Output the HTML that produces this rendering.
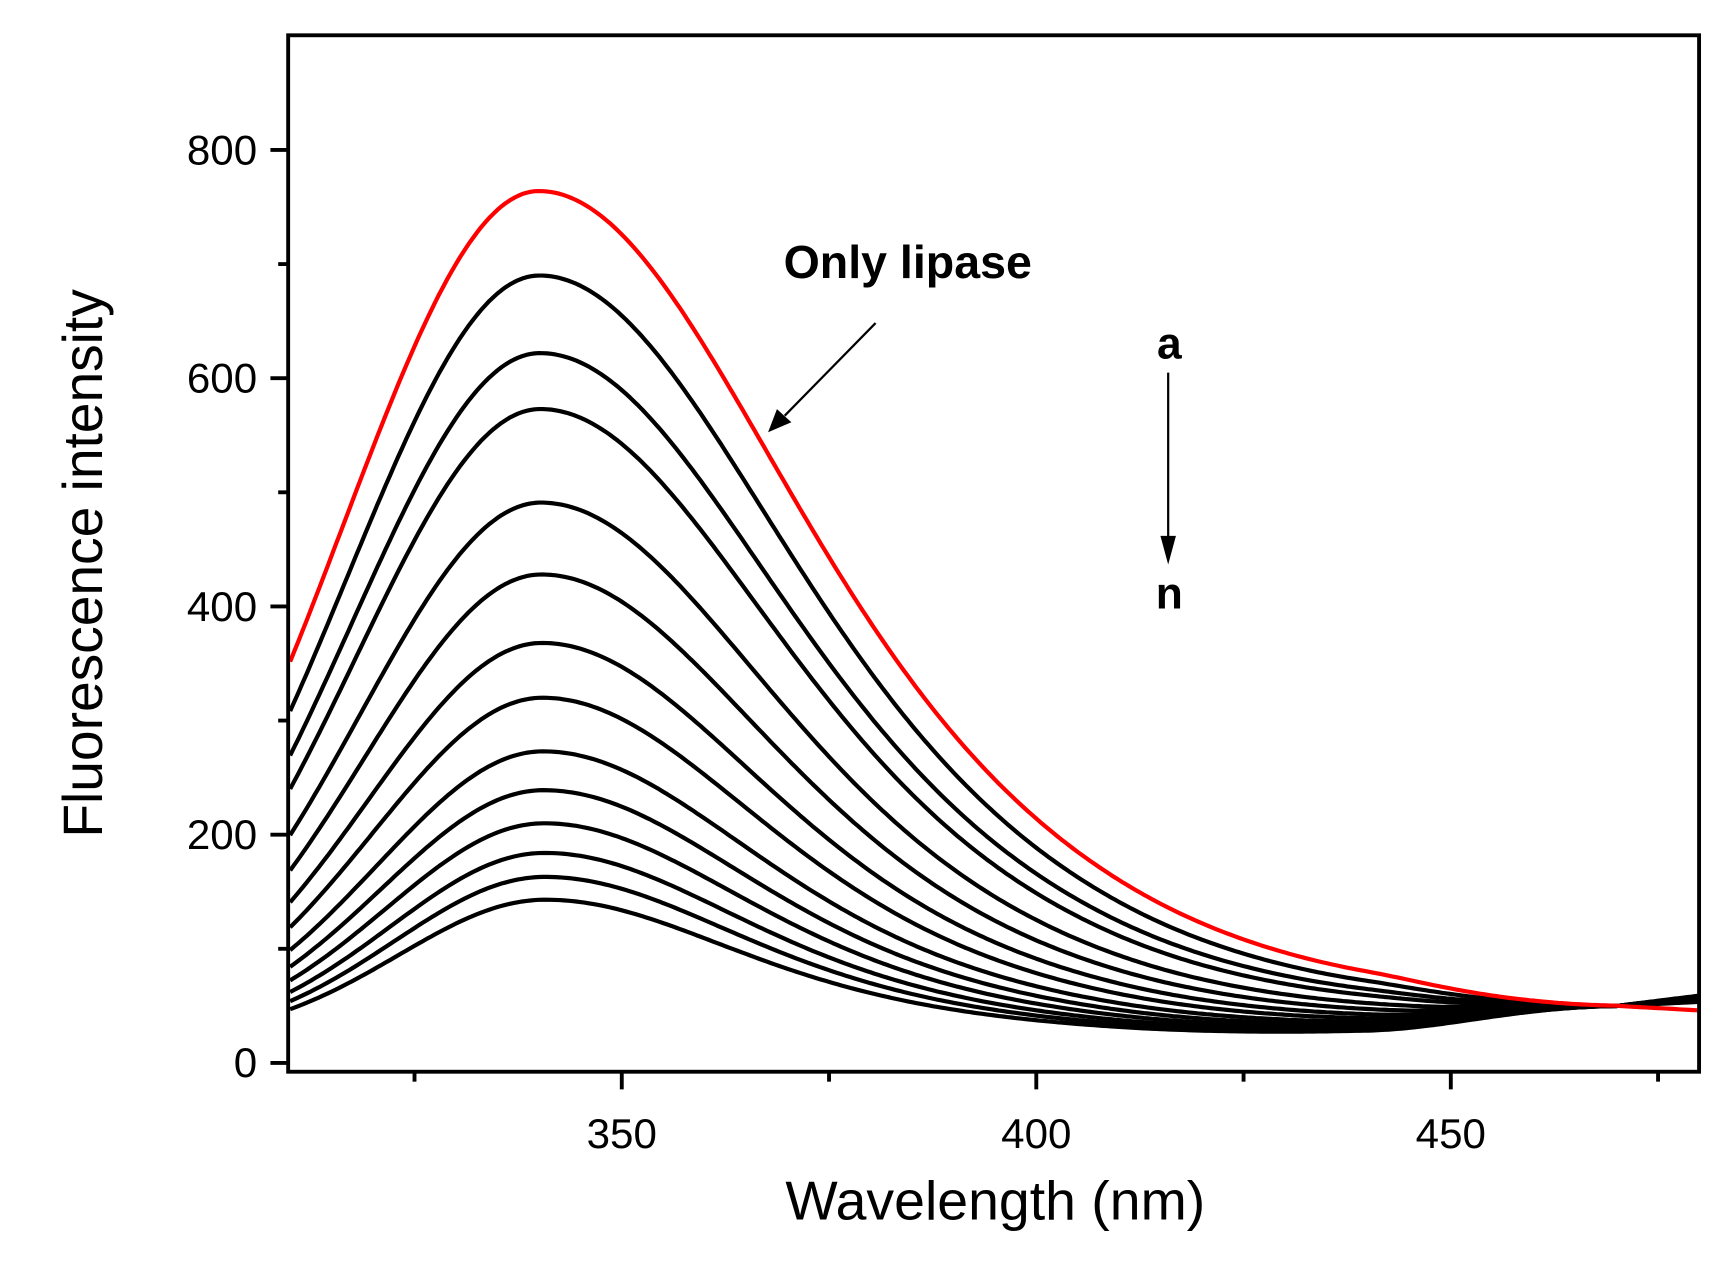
<!DOCTYPE html>
<html><head><meta charset="utf-8"><style>
html,body{margin:0;padding:0;background:#fff;}
svg{display:block;}
text{font-family:"Liberation Sans",Arial,sans-serif;fill:#000;}
</style></head><body>
<svg id="s" width="1729" height="1268" viewBox="0 0 1560 1150" preserveAspectRatio="none" xmlns="http://www.w3.org/2000/svg">
<rect x="0" y="0" width="1560" height="1150" fill="#fff"/>
<g id="curves" fill="none" stroke-width="3.8" stroke-linejoin="round"></g>
<rect x="260" y="32" width="1273" height="940" fill="none" stroke="#000" stroke-width="3.5"/>
<g stroke="#000" stroke-width="3.5" id="ticks"></g>
<g font-size="38" text-anchor="end">
<text x="232" y="977">0</text>
<text x="232" y="770">200</text>
<text x="232" y="563">400</text>
<text x="232" y="356">600</text>
<text x="232" y="149">800</text>
</g>
<g font-size="38" text-anchor="middle">
<text x="561" y="1041">350</text>
<text x="935" y="1041">400</text>
<text x="1309" y="1041">450</text>
</g>
<text x="898" y="1106" font-size="50" text-anchor="middle">Wavelength (nm)</text>
<text transform="translate(92,511) rotate(-90)" font-size="50" text-anchor="middle">Fluorescence intensity</text>
<text x="707" y="252" font-size="42" font-weight="bold">Only lipase</text>
<text x="1055" y="325" font-size="40" font-weight="bold" text-anchor="middle">a</text>
<text x="1055" y="552" font-size="40" font-weight="bold" text-anchor="middle">n</text>
<line x1="1054" y1="338" x2="1054" y2="490" stroke="#000" stroke-width="2"/>
<polygon points="1047,486 1061,486 1054,512" fill="#000"/>
<line x1="790" y1="293" x2="708" y2="377" stroke="#000" stroke-width="2"/>
<polygon points="693,392 701,371 714,383" fill="#000"/>
</svg>
<script>
(function(){
var NS="http://www.w3.org/2000/svg";
function X(l){return 561+(l-350)*7.48;}
function Y(v){return 964-v*1.035;}
var t=document.getElementById('ticks');
function ln(x1,y1,x2,y2){var e=document.createElementNS(NS,'line');e.setAttribute('x1',x1);e.setAttribute('y1',y1);e.setAttribute('x2',x2);e.setAttribute('y2',y2);t.appendChild(e);}
for(var v=0;v<=800;v+=100){var y=Y(v);ln(260,y,v%200==0?244:251,y);}
for(var l=325;l<=475;l+=25){var x=X(l);ln(x,972,x,l%50==0?988:981);}
var peaks=[764,690,622,573,491,428,368,320,273,239,210,184,163,143];
var g=document.getElementById('curves');
for(var i=peaks.length-1;i>=0;i--){
 var P=peaks[i],fr=i/13,A=P-20;
 var k=1-0.25*fr, c=340+0.8*fr;
 var sl=23.6*k, gm=61.3*k;
 var d='';
 for(var l=310;l<=480.2;l+=0.5){
  var dd=l-c,f;
  if(dd<0){f=Math.exp(-dd*dd/(2*sl*sl));}
  else{var x=(dd/gm)*(dd/gm);f=1/((1+x)*(1+x));}
  var q=(l-410)/40; q=q<0?0:q;
  var base=20+8*q*q;
  var v=A*f+base;
  var w=l<440?0:(l>472?1:(l-440)/32);w=w*w*(3-2*w);
  var end=50+(l>470?(l-470)*(0.9-0.6*(1-fr)):0);
  if(i==0) end=50-(l>470?(l-470)*0.4:0);
  v=v*(1-w)+end*w;
  d+=(d?'L':'M')+X(l).toFixed(1)+','+Y(v).toFixed(1);
 }
 var p=document.createElementNS(NS,'path');p.setAttribute('d',d);
 p.setAttribute('stroke',i==0?'#ff0000':'#000');g.appendChild(p);
}
})();
</script>
</body></html>
